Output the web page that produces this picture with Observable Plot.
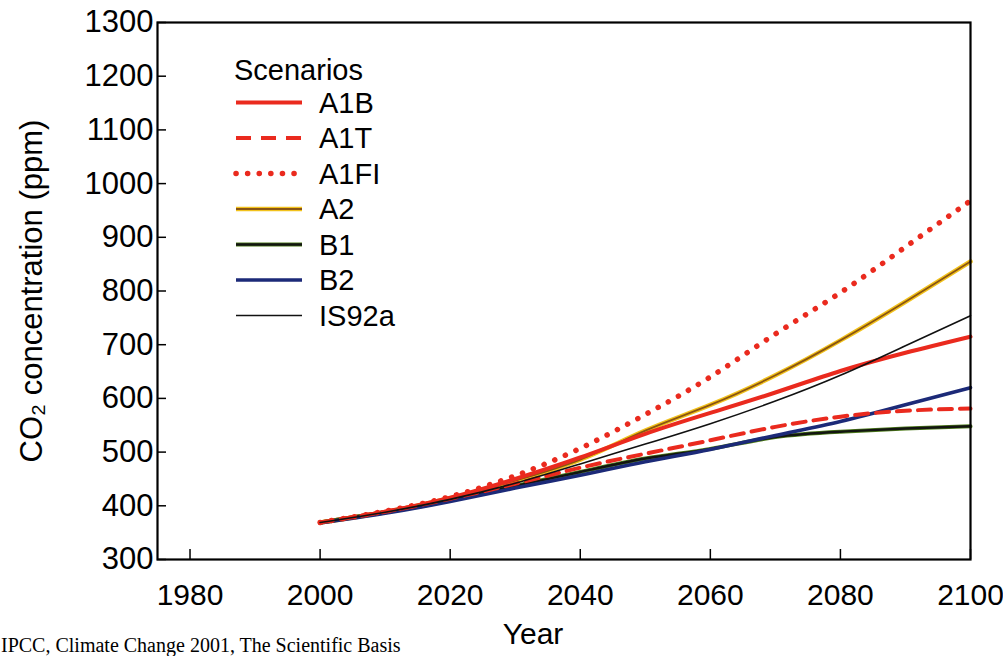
<!DOCTYPE html>
<html><head><meta charset="utf-8">
<script src="https://cdn.jsdelivr.net/npm/d3@7"></script>
<script src="https://cdn.jsdelivr.net/npm/@observablehq/plot@0.6"></script>
<style>
body{margin:0;background:#fff;}
#wrap{position:relative;width:1003px;height:656px;overflow:hidden;font-family:"Liberation Sans",Arial,Helvetica,sans-serif;}
#caption{position:absolute;left:1px;top:635px;font-family:"Liberation Serif","Times New Roman",serif;font-size:20px;line-height:20px;white-space:nowrap;color:#000;}
#legend{position:absolute;left:0;top:0;}
</style></head><body>
<div id="wrap"><div id="chart"></div><svg id="legend" width="420" height="340"></svg><div id="caption">IPCC, Climate Change 2001, The Scientific Basis</div></div>
<script>
// ---- data ----
const years = [2000, 2010, 2020, 2030, 2040, 2050, 2060, 2070, 2080, 2090, 2100];
const A1B   = [369, 389, 415, 450, 490, 534, 573, 611, 651, 685, 715];
const A1T   = [369, 389, 413, 441, 471, 497, 522, 547, 566, 577, 581];
const A1FI  = [369, 390, 417, 456, 507, 570, 640, 720, 797, 882, 968];
const A2    = [369, 388, 414, 447, 486, 540, 588, 643, 708, 780, 855];
const B1    = [369, 388, 410, 437, 463, 488, 506, 528, 538, 544, 548];
const B2    = [368, 386, 408, 433, 457, 482, 505, 531, 557, 588, 620];
const IS92a = [369, 388, 412, 442, 478, 515, 553, 595, 643, 698, 754];
const scenarios = ["A1B", "A1T", "A1FI", "A2", "B1", "B2", "IS92a"];
const xTicks = [1980, 2000, 2020, 2040, 2060, 2080, 2100];
const yTicks = [300, 400, 500, 600, 700, 800, 900, 1000, 1100, 1200, 1300];
const legendTitle = "Scenarios";
const xLabel = "Year";
const yLabel = "CO₂ concentration (ppm)";

const series = {A1B, A1T, A1FI, A2, B1, B2, IS92a};
const rows = scenarios.flatMap(s => years.map((yr, i) => ({scenario: s, year: yr, co2: series[s][i]})));

// ---- styles ----
const red = "#ea2a1e";
const styles = {
  A1B:  [{stroke: red, strokeWidth: 4}],
  A1T:  [{stroke: red, strokeWidth: 4, strokeDasharray: "13 8"}],
  A1FI: [{stroke: red, strokeWidth: 5.5, strokeDasharray: "0.1 11.5", strokeLinecap: "round"}],
  A2:   [{stroke: "#f2c21c", strokeWidth: 4.5}, {stroke: "#8a5512", strokeWidth: 1.8}],
  B1:   [{stroke: "#4f7d1c", strokeWidth: 4}, {stroke: "#121510", strokeWidth: 2.4}],
  B2:   [{stroke: "#1c2a78", strokeWidth: 3.6}],
  IS92a:[{stroke: "#111", strokeWidth: 1.6}]
};
const drawOrder = ["A2", "A1B", "B1", "B2", "A1T", "A1FI", "IS92a"];

const lineMarks = drawOrder.flatMap(s => styles[s].map(st =>
  Plot.line(rows.filter(d => d.scenario === s), {x: "year", y: "co2", curve: "natural", strokeLinejoin: "round", ...st})
));

const plot = Plot.plot({
  width: 1003, height: 656,
  marginLeft: 157, marginRight: 33, marginTop: 22, marginBottom: 97,
  style: {fontFamily: "'Liberation Sans', Arial, Helvetica, sans-serif", color: "black", background: "white", overflow: "visible"},
  x: {domain: [1975, 2100], label: null},
  y: {domain: [300, 1300], label: null},
  marks: [
    Plot.axisX(xTicks, {anchor: "bottom", tickSize: -10, tickPadding: 34, tickFormat: "d", fontSize: 30, strokeWidth: 1.5, label: null}),
    Plot.axisY(yTicks, {anchor: "left", tickSize: -9, tickPadding: 13, tickFormat: "d", fontSize: 31, strokeWidth: 1.5, label: null}),
    ...lineMarks,
    Plot.frame({stroke: "black", strokeWidth: 2.2}),
    Plot.text([xLabel], {frameAnchor: "bottom", lineAnchor: "bottom", textAnchor: "middle", dy: 84, dx: -31, fontSize: 30, fill: "black"}),
    Plot.text([yLabel], {frameAnchor: "left", rotate: -90, textAnchor: "middle", lineAnchor: "middle", dx: -125, fontSize: 31, fill: "black"})
  ]
});
document.getElementById("chart").appendChild(plot);

// ---- legend ----
const lg = d3.select("#legend");
lg.append("text").attr("x", 234).attr("y", 70).attr("dy", "0.35em")
  .attr("font-size", 29).attr("fill", "black")
  .attr("font-family", "'Liberation Sans', Arial, sans-serif").text(legendTitle);
scenarios.forEach((s, i) => {
  const cy = 102.5 + i * 35.5;
  styles[s].forEach(st => {
    const l = lg.append("line").attr("x1", 236).attr("x2", 302).attr("y1", cy).attr("y2", cy)
      .attr("stroke", st.stroke).attr("stroke-width", st.strokeWidth);
    if (st.strokeDasharray) l.attr("stroke-dasharray", s === "A1T" ? "15 10" : st.strokeDasharray);
    if (st.strokeLinecap) l.attr("stroke-linecap", st.strokeLinecap);
  });
  lg.append("text").attr("x", 319).attr("y", cy).attr("dy", "0.35em")
    .attr("font-size", 29).attr("fill", "black")
    .attr("font-family", "'Liberation Sans', Arial, sans-serif").text(s);
});
</script>
</body></html>
